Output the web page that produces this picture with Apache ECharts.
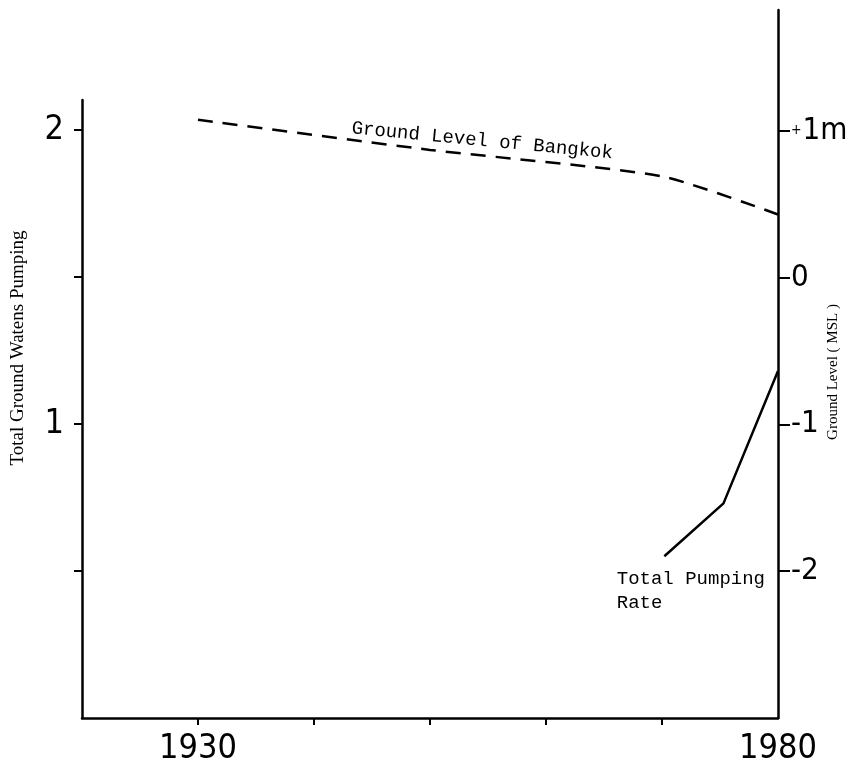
<!DOCTYPE html>
<html>
<head>
    <meta charset="utf-8">
    <title>Bangkok ground level and pumping</title>
    <script src="https://cdn.jsdelivr.net/npm/echarts@6/dist/echarts.min.js"></script>
    <style>
        html, body { margin: 0; padding: 0; background: #fff; }
        #chart { width: 851px; height: 770px; }
    </style>
</head>
<body>
    <div id="chart"></div>
    <script>
        // values
        var groundYears = [1930, 1950, 1970, 1980];
        var groundLevel = [1.075, 0.87, 0.69, 0.43];      // m above MSL (right axis)
        var pumpYears = [1970.2, 1975.3, 1980];
        var pumpRate = [0.55, 0.73, 1.18];                 // left axis units

        var xTicks = [1930, 1940, 1950, 1960, 1970];
        var xLabels = [1930, 1980];
        var leftTicks = [0.5, 1, 1.5, 2];
        var leftLabels = [1, 2];
        var rightTicks = [-2, -1, 0, 1];

        function pairs(xs, ys) {
            var out = [];
            for (var i = 0; i < xs.length; i++) out.push([xs[i], ys[i]]);
            return out;
        }

        var numFamily = '"Liberation Sans Narrow", "DejaVu Sans Condensed", "Roboto Condensed", "Liberation Sans", sans-serif';
        var numFont = { color: '#000', fontFamily: numFamily, fontSize: 34 };
        var line = { color: '#000', width: 2.5 };

        var chart = echarts.init(document.getElementById('chart'));
        chart.setOption({
            backgroundColor: '#fff',
            animation: false,
            grid: [
                { left: 82, right: 73, top: 100, bottom: 52, outerBoundsMode: 'none', containLabel: false },
                { left: 82, right: 73, top: 10, bottom: 52, outerBoundsMode: 'none', containLabel: false }
            ],
            xAxis: [{
                gridIndex: 0, type: 'value', min: 1920, max: 1980, interval: 10,
                axisLine: { onZero: false, lineStyle: line },
                axisTick: { customValues: xTicks, length: 7, lineStyle: { color: '#000', width: 2 } },
                axisLabel: Object.assign({
                    customValues: xLabels, margin: 14,
                    formatter: function (v) { return String(v); }
                }, numFont),
                splitLine: { show: false }
            }, {
                gridIndex: 1, type: 'value', min: 1920, max: 1980, show: false
            }],
            yAxis: [{
                gridIndex: 0, type: 'value', min: 0, max: 2.102, position: 'left',
                axisLine: { show: true, lineStyle: line },
                axisTick: { customValues: leftTicks, length: 8, lineStyle: { color: '#000', width: 2 } },
                axisLabel: Object.assign({ customValues: leftLabels, margin: 18 }, numFont),
                splitLine: { show: false }
            }, {
                gridIndex: 1, type: 'value', min: -3, max: 1.823, position: 'right',
                axisLine: { show: true, onZero: false, lineStyle: line },
                axisTick: { customValues: rightTicks, length: 12, lineStyle: { color: '#000', width: 2 } },
                axisLabel: {
                    customValues: rightTicks, margin: 13,
                    color: '#000', fontFamily: numFamily, fontSize: 31,
                    formatter: function (v) { return v === 1 ? '{p|+}1m' : String(v); },
                    rich: {
                        p: { fontFamily: numFamily, fontSize: 14, color: '#000', padding: [0, 1, 0, 0] }
                    }
                },
                splitLine: { show: false }
            }],
            graphic: [{
                type: 'text', x: 18, y: 348, rotation: Math.PI / 2,
                style: {
                    text: 'Total Ground Watens Pumping', fill: '#000',
                    font: '19px "Liberation Serif"', align: 'center', verticalAlign: 'middle'
                }
            }, {
                type: 'text', x: 833, y: 372, rotation: Math.PI / 2,
                style: {
                    text: 'Ground Level ( MSL )', fill: '#000',
                    font: '15px "Liberation Serif"', align: 'center', verticalAlign: 'middle'
                }
            }],
            series: [{
                name: 'Ground Level of Bangkok', type: 'line',
                xAxisIndex: 1, yAxisIndex: 1,
                data: pairs(groundYears, groundLevel),
                showSymbol: false, smooth: 0.2,
                lineStyle: { color: '#000', width: 2.5, type: [15, 10] },
                markPoint: {
                    symbol: 'rect', symbolSize: 1,
                    itemStyle: { color: 'rgba(0,0,0,0)' },
                    data: [{ coord: [1954.5, 0.932] }],
                    label: {
                        show: true, position: 'inside', rotate: -5.5,
                        formatter: 'Ground Level of Bangkok',
                        color: '#000', fontFamily: 'Liberation Mono', fontSize: 19
                    }
                }
            }, {
                name: 'Total Pumping Rate', type: 'line',
                xAxisIndex: 0, yAxisIndex: 0,
                data: pairs(pumpYears, pumpRate),
                showSymbol: false,
                lineStyle: { color: '#000', width: 2.5 },
                markPoint: {
                    symbol: 'rect', symbolSize: 1,
                    itemStyle: { color: 'rgba(0,0,0,0)' },
                    data: [{ coord: [1966.1, 0.432] }],
                    label: {
                        show: true, position: 'inside', align: 'left', verticalAlign: 'middle',
                        formatter: 'Total Pumping\nRate', lineHeight: 24,
                        color: '#000', fontFamily: 'Liberation Mono', fontSize: 19
                    }
                }
            }]
        });
    </script>
</body>
</html>
